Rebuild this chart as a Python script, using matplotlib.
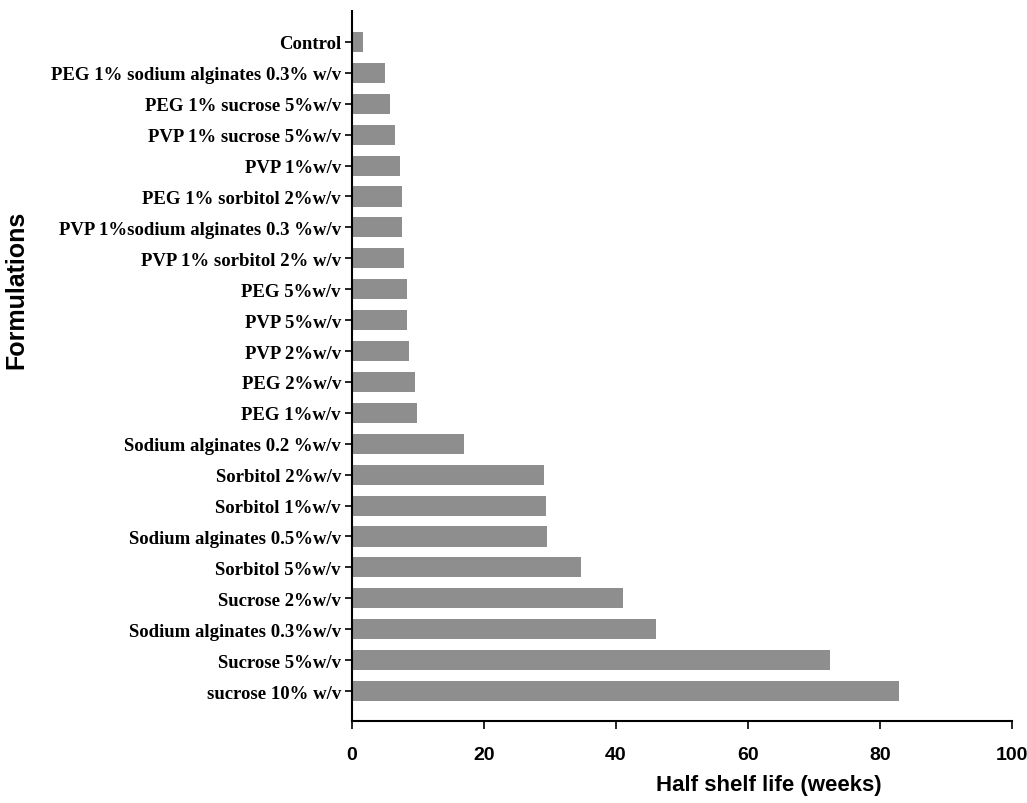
import matplotlib
matplotlib.use("Agg")
import matplotlib.pyplot as plt

formulations = [
    "Control",
    "PEG 1% sodium alginates 0.3% w/v",
    "PEG 1% sucrose 5%w/v",
    "PVP 1% sucrose 5%w/v",
    "PVP 1%w/v",
    "PEG 1% sorbitol 2%w/v",
    "PVP 1%sodium alginates 0.3 %w/v",
    "PVP 1% sorbitol 2% w/v",
    "PEG 5%w/v",
    "PVP 5%w/v",
    "PVP 2%w/v",
    "PEG 2%w/v",
    "PEG 1%w/v",
    "Sodium alginates 0.2 %w/v",
    "Sorbitol 2%w/v",
    "Sorbitol 1%w/v",
    "Sodium alginates 0.5%w/v",
    "Sorbitol 5%w/v",
    "Sucrose 2%w/v",
    "Sodium alginates 0.3%w/v",
    "Sucrose 5%w/v",
    "sucrose 10% w/v",
]
half_life_weeks = [1.6, 5.0, 5.7, 6.5, 7.2, 7.6, 7.6, 7.9, 8.4, 8.4, 8.6, 9.5,
                   9.9, 16.9, 29.1, 29.4, 29.6, 34.7, 41.0, 46.0, 72.4, 82.9]
x_ticks = [0, 20, 40, 60, 80, 100]

fig = plt.figure(figsize=(10.27, 8.04), dpi=100)
ax = fig.add_axes([352/1027, 1 - 722/804, 660/1027, 710/804])

pos = list(range(len(formulations)))
ax.barh(pos, half_life_weeks, height=0.65, color="#8e8e8e", edgecolor="none")

ax.set_ylim(len(formulations) - 0.03, -1.0)
ax.set_xlim(0, 100)
ax.set_yticks(pos)
ax.set_yticklabels(formulations, fontfamily=["Liberation Serif", "DejaVu Serif"],
                   fontweight="bold", fontsize=13.5)
ax.set_xticks(x_ticks)
ax.set_xticklabels([str(t) for t in x_ticks],
                   fontfamily=["Liberation Sans", "DejaVu Sans"],
                   fontweight="bold", fontsize=14)

for s in ["top", "right"]:
    ax.spines[s].set_visible(False)
for s in ["left", "bottom"]:
    ax.spines[s].set_linewidth(1.5)
    ax.spines[s].set_color("black")
ax.tick_params(axis="y", direction="out", length=5, width=1.2, pad=3)
ax.tick_params(axis="x", direction="out", length=6, width=1.2, pad=12)

ax.set_xlabel("Half shelf life (weeks)",
              fontfamily=["Liberation Sans", "DejaVu Sans"],
              fontweight="bold", fontsize=16)
ax.xaxis.set_label_coords(0.632, -0.075)
ax.set_ylabel("Formulations", fontfamily=["Liberation Sans", "DejaVu Sans"],
              fontweight="bold", fontsize=18)
ax.yaxis.set_label_coords(-0.49, 0.608)

fig.savefig("out.png", dpi=100)
